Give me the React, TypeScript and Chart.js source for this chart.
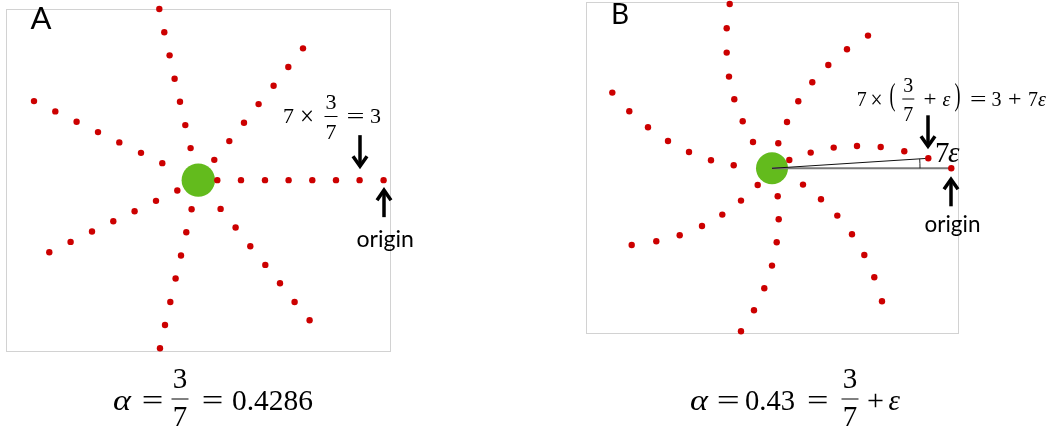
import React, { useEffect, useRef } from "react";
import { Chart, registerables } from "chart.js";
Chart.register(...registerables);

// Panel A (alpha = 3/7): dot offsets from the green centre, y up
const aX = [
  19.0, 42.7, 66.7, 90.3, 114.0, 137.7, 161.3, 185.3,
  16.0, 31.0, 45.7, 60.3, 75.3, 90.0, 104.7,
  -7.7, -13.0, -18.3, -23.7, -28.7, -34.0, -39.0,
  -36.0, -57.3, -79.0, -100.3, -121.7, -143.0, -164.3,
  -21.0, -42.3, -63.7, -85.0, -106.3, -127.7, -149.0,
  -6.7, -12.0, -17.3, -22.7, -28.0, -33.3, -38.3,
  22.3, 37.3, 52.0, 67.0, 81.7, 96.3, 111.3,
];
const aY = [
  0, 0, 0, 0, 0, 0, 0, 0,
  20.3, 39.0, 57.3, 76.0, 94.3, 113.0, 131.7,
  32.0, 55.0, 78.3, 101.3, 124.7, 147.7, 171.0,
  17.0, 27.3, 37.7, 48.0, 58.3, 68.7, 79.0,
  -10.3, -20.7, -31.0, -41.0, -51.3, -61.7, -72.0,
  -29.0, -52.0, -75.3, -98.3, -121.7, -144.7, -168.0,
  -28.7, -47.3, -66.0, -84.7, -103.0, -121.7, -140.0,
];

// Panel B (alpha = 0.43): dot offsets from the green centre, y up (first = origin)
const bX = [
  179.3, 156.3, 132.3, 108.7, 85.0, 61.7, 38.7, 17.3,
  6.3, 15.0, 26.3, 40.3, 56.3, 75.0, 96.0,
  -19.0, -29.3, -37.7, -43.0, -45.3, -45.3, -42.3,
  -38.3, -61.0, -83.0, -104.0, -124.0, -142.7, -159.7,
  -14.3, -31.0, -49.7, -70.0, -92.3, -115.7, -140.3,
  5.7, 6.7, 4.7, 0, -7.7, -18.0, -31.0,
  31.0, 49.0, 65.3, 80.0, 92.3, 102.3, 110.0,
];
const bY = [
  0, 10.0, 17.0, 21.3, 22.3, 20.7, 15.7, 8.3,
  25.0, 46.3, 67.0, 86.0, 103.3, 119.0, 132.7,
  26.3, 47.0, 69.0, 91.7, 115.7, 140.0, 164.3,
  3.0, 8.0, 16.3, 27.3, 41.0, 57.0, 75.7,
  -16.7, -32.3, -46.3, -57.7, -67.0, -73.0, -76.7,
  -28.0, -51.0, -74.0, -97.3, -120.0, -142.0, -163.0,
  -16.3, -31.0, -47.3, -66.0, -86.7, -109.0, -133.0,
];

const RED = "#cc0000";
const GREEN = "#63bb1d";

const framePlugin = {
  id: "frame",
  beforeDatasetsDraw(chart: any) {
    const { ctx, chartArea } = chart;
    const { left, top, right, bottom } = chartArea;
    ctx.save();
    ctx.strokeStyle = "#d2d2d2";
    ctx.lineWidth = 1;
    ctx.strokeRect(Math.round(left) + 0.5, Math.round(top) + 0.5, Math.round(right - left), Math.round(bottom - top));
    ctx.restore();
  },
  afterDatasetsDraw(chart: any, _args: any, opts: any) {
    const { ctx } = chart;
    const xs = chart.scales.x;
    const ys = chart.scales.y;
    ctx.save();
    if (opts.arc) {
      const cx = xs.getPixelForValue(0);
      const cy = ys.getPixelForValue(0);
      const px = xs.getPixelForValue(opts.arc.x);
      const py = ys.getPixelForValue(opts.arc.y);
      const ang = Math.atan2(py - cy, px - cx);
      ctx.strokeStyle = "#222";
      ctx.lineWidth = 1;
      ctx.beginPath();
      ctx.arc(cx, cy, opts.arc.r, ang, 0);
      ctx.stroke();
    }
    (opts.arrows || []).forEach((a: any) => {
      const px = Math.round(xs.getPixelForValue(a.x));
      const py = ys.getPixelForValue(a.y);
      const down = a.dir === "down";
      const tip = down ? py - a.gap : py + a.gap;
      const tail = down ? tip - a.len : tip + a.len;
      const s = down ? -1 : 1;
      ctx.strokeStyle = "#000";
      ctx.lineWidth = 3.5;
      ctx.lineCap = "butt";
      ctx.beginPath();
      ctx.moveTo(px, tail);
      ctx.lineTo(px, tip + s * 3);
      ctx.stroke();
      ctx.lineJoin = "miter";
      ctx.beginPath();
      ctx.moveTo(px - 7, tip + s * 13);
      ctx.lineTo(px, tip + s * 3);
      ctx.lineTo(px + 7, tip + s * 13);
      ctx.stroke();
    });
    ctx.restore();
  },
};

function makePoints(xs: number[], ys: number[]) {
  return xs.map((x, i) => ({ x, y: ys[i] }));
}

function Panel(props: {
  left: number; width: number; height: number; padding: any;
  xr: [number, number]; yr: [number, number];
  xs: number[]; ys: number[]; green: number; extra: any[]; plug: any;
}) {
  const ref = useRef<HTMLCanvasElement>(null);
  useEffect(() => {
    const c = ref.current;
    if (!c) return;
    const chart = new Chart(c, {
      type: "scatter",
      data: {
        datasets: [
          {
            data: makePoints(props.xs, props.ys),
            pointRadius: 3.2,
            pointBackgroundColor: RED,
            pointBorderWidth: 0,
            order: 0,
            clip: false,
          } as any,
          ...props.extra,
          {
            data: [{ x: 0, y: 0 }],
            pointRadius: props.green,
            pointBackgroundColor: GREEN,
            pointBorderWidth: 0,
            order: 5,
            clip: false,
          } as any,
        ],
      },
      options: {
        responsive: false,
        maintainAspectRatio: false,
        animation: false,
        events: [],
        layout: { padding: props.padding, autoPadding: false },
        scales: {
          x: { type: "linear", display: false, min: props.xr[0], max: props.xr[1] },
          y: { type: "linear", display: false, min: props.yr[0], max: props.yr[1] },
        },
        plugins: {
          legend: { display: false },
          tooltip: { enabled: false },
          frame: props.plug,
        } as any,
      } as any,
      plugins: [framePlugin],
    });
    return () => chart.destroy();
  }, []);
  return (
    <canvas
      ref={ref}
      width={props.width}
      height={props.height}
      style={{ position: "absolute", left: props.left, top: 0, width: props.width, height: props.height }}
    />
  );
}

const SERIF = "'Liberation Serif', 'Times New Roman', serif";
const SANS = "Lato, 'Open Sans', sans-serif";

function Frac(p: { cx: number; n: string; d: string; nb: number; db: number; by: number; w: number; size: number }) {
  return (
    <g>
      <text x={p.cx} y={p.nb} textAnchor="middle" fontSize={p.size} fontFamily={SERIF}>{p.n}</text>
      <line x1={p.cx - p.w / 2} x2={p.cx + p.w / 2} y1={p.by} y2={p.by} stroke="#000" strokeWidth={1} />
      <text x={p.cx} y={p.db} textAnchor="middle" fontSize={p.size} fontFamily={SERIF}>{p.d}</text>
    </g>
  );
}

function T(p: { x: number; y: number; size: number; it?: boolean; w?: number; sans?: boolean; children: any }) {
  const extra: any = p.w ? { textLength: p.w, lengthAdjust: "spacingAndGlyphs" } : {};
  return (
    <text x={p.x} y={p.y} fontSize={p.size} fontStyle={p.it ? "italic" : "normal"} fontFamily={p.sans ? SANS : SERIF} {...extra}>
      {p.children}
    </text>
  );
}

export default function App() {
  const bLines = [
    {
      data: [{ x: 0, y: 0 }, { x: bX[0], y: bY[0] }],
      showLine: true, pointRadius: 0, borderColor: "#7a7a7a", borderWidth: 2, order: 2, clip: false,
    },
    {
      data: [{ x: 0, y: 0 }, { x: bX[1], y: bY[1] }],
      showLine: true, pointRadius: 0, borderColor: "#111", borderWidth: 1, order: 1, clip: false,
    },
  ];
  return (
    <div style={{ position: "absolute", left: 0, top: 0, width: 1053, height: 432, background: "#fff", overflow: "hidden" }}>
      <Panel
        left={0} width={440} height={362}
        padding={{ left: 6, top: 9, right: 50, bottom: 11 }}
        xr={[-192.3, 191.7]} yr={[-170.7, 171]}
        xs={aX} ys={aY} green={16.7} extra={[]}
        plug={{ arrows: [
          { x: aX[6], y: aY[6], dir: "down", gap: 11, len: 34 },
          { x: aX[7], y: aY[7], dir: "up", gap: 7, len: 30 },
        ] }}
      />
      <Panel
        left={576} width={477} height={345}
        padding={{ left: 10, top: 2.3, right: 94.7, bottom: 12 }}
        xr={[-186, 186.3]} yr={[-164.7, 166]}
        xs={bX} ys={bY} green={16} extra={bLines}
        plug={{
          arc: { x: bX[1], y: bY[1], r: 148 },
          arrows: [
            { x: bX[1], y: bY[1], dir: "down", gap: 9, len: 34 },
            { x: bX[0], y: bY[0], dir: "up", gap: 8, len: 30 },
          ],
        }}
      />
      <svg width={1053} height={432} style={{ position: "absolute", left: 0, top: 0, pointerEvents: "none" }}>
        {/* panel letters */}
        <T x={30.5} y={29.3} size={31} sans>A</T>
        <T x={611} y={24} size={28} sans>B</T>
        {/* origin labels */}
        <T x={356.5} y={247} size={24} sans w={57.5}>origin</T>
        <T x={924.5} y={231.7} size={24} sans w={56}>origin</T>

        {/* A annotation: 7 x 3/7 = 3 */}
        <T x={283} y={123} size={22}>7</T>
        <T x={300} y={125} size={28} w={14}>×</T>
        <Frac cx={331} n="3" d="7" nb={108.5} db={138.5} by={116.5} w={13} size={22} />
        <T x={346.5} y={123} size={22} w={18}>=</T>
        <T x={370} y={123} size={22}>3</T>

        {/* B annotation: 7 x (3/7 + e) = 3 + 7e */}
        <T x={856.7} y={106} size={20}>7</T>
        <T x={870.5} y={108} size={26} w={12}>×</T>
        <T x={889.5} y={104.5} size={31} w={6}>(</T>
        <Frac cx={908.3} n="3" d="7" nb={91.5} db={120.5} by={99} w={12} size={20} />
        <T x={923.5} y={106} size={20} w={13}>+</T>
        <T x={942.5} y={106} size={20} it>ε</T>
        <T x={954.5} y={104.5} size={31} w={6}>)</T>
        <T x={970} y={106} size={20} w={16.5}>=</T>
        <T x={991.5} y={106} size={20}>3</T>
        <T x={1008} y={106} size={20} w={13.5}>+</T>
        <T x={1028} y={106} size={20}>7</T>
        <T x={1038} y={106} size={20} it>ε</T>

        {/* B: 7e */}
        <T x={935} y={161.5} size={29}>7</T>
        <T x={948} y={161.5} size={29} it>ε</T>

        {/* A bottom: alpha = 3/7 = 0.4286 */}
        <T x={113} y={410} size={29} it w={18}>α</T>
        <T x={141.7} y={410} size={29} w={21.6}>=</T>
        <Frac cx={180} n="3" d="7" nb={387.5} db={426} by={399} w={17} size={29} />
        <T x={201.7} y={410} size={29} w={21.6}>=</T>
        <T x={232} y={410} size={29} w={81}>0.4286</T>

        {/* B bottom: alpha = 0.43 = 3/7 + e */}
        <T x={690} y={410} size={29} it w={18}>α</T>
        <T x={716.7} y={410} size={29} w={23}>=</T>
        <T x={745} y={410} size={29} w={50}>0.43</T>
        <T x={807} y={410} size={29} w={21.5}>=</T>
        <Frac cx={850} n="3" d="7" nb={387.5} db={426} by={399} w={17} size={29} />
        <T x={867} y={410} size={29} w={17}>+</T>
        <T x={888.5} y={410} size={29} it>ε</T>
      </svg>
    </div>
  );
}
